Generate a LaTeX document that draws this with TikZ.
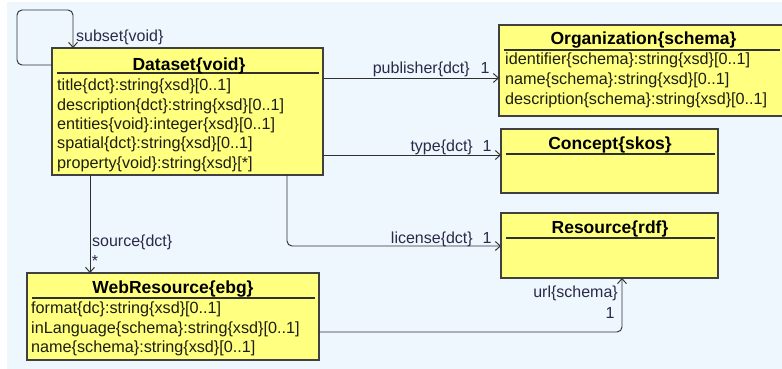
\documentclass[tikz,border=0pt]{standalone}
\usepackage{fontspec}
\setmainfont{Liberation Sans}
\usetikzlibrary{arrows.meta,calc}
\definecolor{bg}{HTML}{EEF6FE}
\definecolor{boxfill}{HTML}{FFFF80}
\definecolor{boxdraw}{HTML}{404040}
\definecolor{txt}{HTML}{1E1E10}
\definecolor{lbl}{HTML}{2A2A48}
\definecolor{linec}{HTML}{303030}
\begin{document}
\begin{tikzpicture}[x=1pt,y=-1pt,
  cls/.style={draw=boxdraw, fill=boxfill, line width=1.3pt, anchor=north west, inner sep=0pt, outer sep=0pt},
  hdr/.style={draw=linec, line width=1.2pt},
  ttl/.style={font=\fontsize{17.5}{20}\selectfont\bfseries, text=black, inner sep=0pt, anchor=base},
  attr/.style={font=\fontsize{16.2}{19}\selectfont, text=txt, inner sep=0pt, anchor=base west},
  lab/.style={font=\fontsize{16}{19}\selectfont, text=lbl, inner sep=0pt},
  conn/.style={draw=linec, line width=0.95pt, rounded corners=5pt},
  arr/.style={conn, -{Straight Barb[length=5pt,width=9pt]}},
]
% background
\fill[white] (0,0) rectangle (782,369);
\fill[bg] (7,2) rectangle (782,369);
\useasboundingbox (0,0) rectangle (782,369);

% boxes
\node[cls, minimum width=271pt, minimum height=127pt] (ds) at (52,48) {};
\node[cls, minimum width=286pt, minimum height=91pt] (org) at (499,25) {};
\node[cls, minimum width=217pt, minimum height=64pt] (con) at (501,129) {};
\node[cls, minimum width=217pt, minimum height=65pt] (res) at (501,213) {};
\node[cls, minimum width=292pt, minimum height=87pt] (wr) at (27,273) {};

% header lines
\draw[hdr] ($(ds.north west)+(5,25)$) -- ($(ds.north east)+(-4,25)$);
\draw[hdr] ($(org.north west)+(5,25)$) -- ($(org.north west)+(281,25)$);
\draw[hdr] ($(con.north west)+(5,25)$) -- ($(con.north east)+(-3,25)$);
\draw[hdr] ($(res.north west)+(5,25)$) -- ($(res.north east)+(-3,25)$);
\draw[hdr] ($(wr.north west)+(5,25)$) -- ($(wr.north east)+(-4,25)$);

% titles
\node[ttl] (dsT) at (189,70.5) {Dataset\{void\}};
\node[ttl] (orgT) at (643.5,45) {Organization\{schema\}};
\node[ttl] (conT) at (610,149) {Concept\{skos\}};
\node[ttl] (resT) at (610,233) {Resource\{rdf\}};
\node[ttl] (wrT) at (173,293) {WebResource\{ebg\}};

% Dataset attributes
\node[attr] (ds1) at (57,91) {title\{dct\}:string\{xsd\}[0..1]};
\node[attr] (ds2) at (57,110.3) {description\{dct\}:string\{xsd\}[0..1]};
\node[attr] (ds3) at (57,129.5) {entities\{void\}:integer\{xsd\}[0..1]};
\node[attr] (ds4) at (57,148.8) {spatial\{dct\}:string\{xsd\}[0..1]};
\node[attr] (ds5) at (57,168) {property\{void\}:string\{xsd\}[*]};

% Organization attributes
\node[attr] (org1) at (505,65) {identifier\{schema\}:string\{xsd\}[0..1]};
\node[attr] (org2) at (505,84.5) {name\{schema\}:string\{xsd\}[0..1]};
\node[attr] (org3) at (505,104) {description\{schema\}:string\{xsd\}[0..1]};

% WebResource attributes
\node[attr] (wr1) at (31,313) {format\{dc\}:string\{xsd\}[0..1]};
\node[attr] (wr2) at (31,333) {inLanguage\{schema\}:string\{xsd\}[0..1]};
\node[attr] (wr3) at (31,352.5) {name\{schema\}:string\{xsd\}[0..1]};

% helper coordinates
\coordinate (pubY) at (0,78);
\coordinate (typY) at (0,155);
\coordinate (lic) at (287,246);
\coordinate (srcX) at (90,0);
\coordinate (url) at (622,332);

% connectors
\draw[arr] ($(ds.north west)+(0,17)$) -| ($(ds.north west)+(-35,-38)$) -| ($(ds.north west)+(21,0)$);
\draw[arr] (ds.east |- pubY) -- (org.west |- pubY);
\draw[arr] (ds.east |- typY) -- (con.west |- typY);
\draw[arr] (ds.south -| lic) |- (res.west |- lic);
\draw[arr] (ds.south -| srcX) -- (wr.north -| srcX);
\draw[arr] (wr.east |- url) -| (res.south -| url);

% labels
\node[lab, anchor=base west] (lSub) at (76,41.7) {subset\{void\}};
\node[lab, anchor=base east] (lPub) at (470,74) {publisher\{dct\}};
\node[lab, anchor=base] (mPub) at (485,74) {1};
\node[lab, anchor=base east] (lTyp) at (473,151.7) {type\{dct\}};
\node[lab, anchor=base] (mTyp) at (487,151.7) {1};
\node[lab, anchor=base east] (lLic) at (473,243) {license\{dct\}};
\node[lab, anchor=base] (mLic) at (487,243) {1};
\node[lab, anchor=base west] (lSrc) at (92,246) {source\{dct\}};
\node[lab, anchor=base] (mSrc) at (95,266) {*};
\node[lab, anchor=base east] (lUrl) at (618,297) {url\{schema\}};
\node[lab, anchor=base] (mUrl) at (610,318) {1};
\end{tikzpicture}
\end{document}
